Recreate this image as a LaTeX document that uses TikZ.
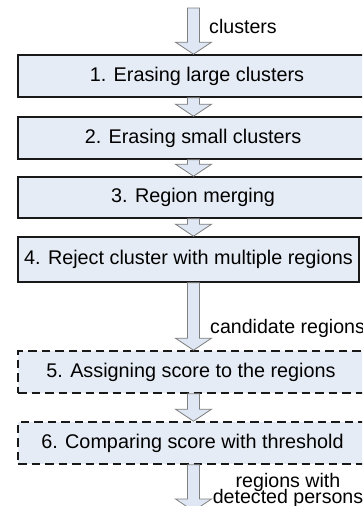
\documentclass[tikz,border=0pt]{standalone}
\usepackage{fontspec}
\setmainfont{Liberation Sans}
\usetikzlibrary{calc}
\definecolor{boxfill}{RGB}{230,236,245}
\definecolor{arrfill}{RGB}{222,231,243}
\definecolor{arrline}{RGB}{128,128,128}
\begin{document}
\begin{tikzpicture}[x=1pt,y=1pt,
  stepbox/.style={draw=black!90, line width=1.6pt, fill=boxfill, rectangle, inner sep=0pt,
    font=\fontsize{19.8}{22}\selectfont},
  dashbox/.style={stepbox, dash pattern=on 8.5pt off 5pt},
  lbl/.style={font=\fontsize{19.6}{16}\selectfont, inner sep=0pt},
  blockarrow/.style={draw=arrline, fill=arrfill, line width=0.8pt, line join=miter,
    to path={let \p1=(\tikztostart), \p2=(\tikztotarget) in
      (\x1-6pt,\y1) -- (\x1+6pt,\y1) -- (\x1+6pt,\y2+12pt) -- (\x1+18pt,\y2+12pt)
      -- (\x1,\y2) -- (\x1-18pt,\y2+12pt) -- (\x1-6pt,\y2+12pt) -- cycle}}]
\useasboundingbox (0,0) rectangle (362,-506);
\clip (0,0) rectangle (362,-506);
\coordinate (ax) at (193.5,0);
\coordinate (top) at (193.5,-8);
\coordinate (bot) at (193.5,-511);

\node[stepbox, minimum width=358, minimum height=42] (b1) at (197,-76) {1. Erasing large clusters};
\node[stepbox, minimum width=350, minimum height=42] (b2) at (193,-138) {2. Erasing small clusters};
\node[stepbox, minimum width=350, minimum height=41] (b3) at (193,-197.5) {3. Region merging};
\node[stepbox, minimum width=341, minimum height=45] (b4) at (188.5,-259.5) {4. Reject cluster with multiple regions};
\node[dashbox, minimum width=346, minimum height=42] (b5) at (191,-372) {5. Assigning score to the regions};
\node[dashbox, minimum width=349, minimum height=42] (b6) at (192.5,-443) {6. Comparing score with threshold};

\draw[blockarrow] (top) to (b1.north -| ax);
\draw[blockarrow] (b1.south -| ax) to (b2.north -| ax);
\draw[blockarrow] (b2.south -| ax) to (b3.north -| ax);
\draw[blockarrow] (b3.south -| ax) to (b4.north -| ax);
\draw[blockarrow] (b4.south -| ax) to (b5.north -| ax);
\draw[blockarrow] (b5.south -| ax) to (b6.north -| ax);
\draw[blockarrow] (b6.south -| ax) to (bot);

\node[lbl, anchor=base west] (l0) at (209,-33) {clusters};
\node[lbl, anchor=base west] (l4) at (210,-333) {candidate regions};
\node[lbl, anchor=base] (l6a) at (288,-487) {regions with};
\node[lbl, anchor=base] (l6b) at (288,-503) {detected persons};
\end{tikzpicture}
\end{document}
